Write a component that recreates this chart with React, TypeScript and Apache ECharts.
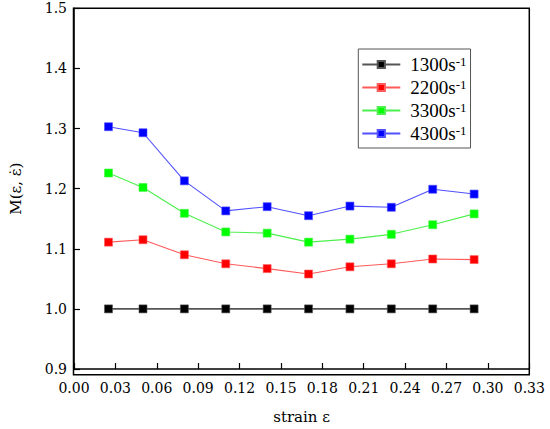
import React, { useEffect, useRef } from "react";
import * as echarts from "echarts";

const strain = [0.025, 0.05, 0.08, 0.11, 0.14, 0.17, 0.2, 0.23, 0.26, 0.29];
const rateNames = ["1300", "2200", "3300", "4300"];
const m1300 = [1.0, 1.0, 1.0, 1.0, 1.0, 1.0, 1.0, 1.0, 1.0, 1.0];
const m2200 = [1.111, 1.115, 1.09, 1.075, 1.067, 1.058, 1.07, 1.075, 1.083, 1.082];
const m3300 = [1.226, 1.202, 1.159, 1.128, 1.126, 1.111, 1.116, 1.124, 1.14, 1.158];
const m4300 = [1.303, 1.293, 1.213, 1.163, 1.17, 1.155, 1.171, 1.169, 1.199, 1.191];

const markerColors = ["#000000", "#ff0000", "#00ff00", "#0000ff"];
const lineColors = ["#555555", "#ff5a5a", "#4cf04c", "#5050ff"];

export default function App() {
  const ref = useRef<HTMLDivElement>(null);
  useEffect(() => {
    if (!ref.current) return;
    const chart = echarts.init(ref.current, undefined, { renderer: "svg" });
    const values = [m1300, m2200, m3300, m4300];
    const series = values.map((arr, i) => ({
      name: rateNames[i],
      type: "line",
      data: arr.map((v, j) => [strain[j], v]),
      symbol: "rect",
      symbolSize: 8,
      itemStyle: { color: markerColors[i], borderColor: lineColors[i], borderWidth: 0.6 },
      lineStyle: { color: lineColors[i], width: i === 0 ? 1.6 : 1.1 },
      z: 2 + i,
    }));
    chart.setOption({
      animation: false,
      grid: { left: 73.5, top: 8.3, right: 20.7, bottom: 54.3, containLabel: false },
      legend: {
        orient: "vertical",
        left: 358.3,
        top: 49,
        padding: [6, 4, 5, 3],
        itemWidth: 38,
        itemHeight: 9,
        itemGap: 4,
        borderColor: "#555",
        borderWidth: 1,
        data: rateNames,
        formatter: (n: string) => n + "s{sup|-1}",
        textStyle: {
          fontFamily: "Liberation Serif",
          fontSize: 19,
          lineHeight: 19,
          color: "#000",
          padding: [0, 0, 0, 5],
          rich: {
            sup: {
              fontFamily: "Liberation Serif",
              fontSize: 13,
              lineHeight: 13,
              verticalAlign: "top",
              color: "#000",
            },
          },
        },
      },
      xAxis: {
        type: "value",
        min: 0,
        max: 0.33,
        interval: 0.03,
        name: "strain ε",
        nameLocation: "middle",
        nameGap: 40,
        nameTextStyle: { fontFamily: "DejaVu Serif", fontSize: 15, color: "#000" },
        axisLine: { show: true, onZero: false, lineStyle: { color: "#000", width: 1.5 } },
        axisTick: { show: true, inside: true, length: 6, lineStyle: { color: "#000", width: 1.2 } },
        axisLabel: {
          margin: 12,
          fontFamily: "DejaVu Serif",
          fontSize: 14,
          color: "#000",
          formatter: (v: number) => v.toFixed(2),
        },
        splitLine: { show: false },
      },
      yAxis: {
        type: "value",
        min: 0.9,
        max: 1.5,
        interval: 0.1,
        name: "M(ε, ε̇)",
        nameLocation: "middle",
        nameGap: 51,
        nameTextStyle: { fontFamily: "DejaVu Serif", fontSize: 15, color: "#000" },
        axisLine: { show: true, onZero: false, lineStyle: { color: "#000", width: 1.5 } },
        axisTick: { show: true, inside: true, length: 6, lineStyle: { color: "#000", width: 1.2 } },
        axisLabel: {
          margin: 7,
          fontFamily: "DejaVu Serif",
          fontSize: 14,
          color: "#000",
          formatter: (v: number) => v.toFixed(1),
        },
        splitLine: { show: false },
      },
      graphic: [
        {
          type: "rect",
          shape: { x: 73.5, y: 8.3, width: 550 - 20.7 - 73.5, height: 429 - 54.3 - 8.3 },
          style: { fill: "none", stroke: "#000", lineWidth: 1.5 },
          silent: true,
          z: 0,
        },
      ],
      series,
    });
    return () => chart.dispose();
  }, []);
  return (
    <div
      ref={ref}
      style={{ position: "fixed", left: 0, top: 0, width: 550, height: 429, background: "#fff" }}
    />
  );
}
